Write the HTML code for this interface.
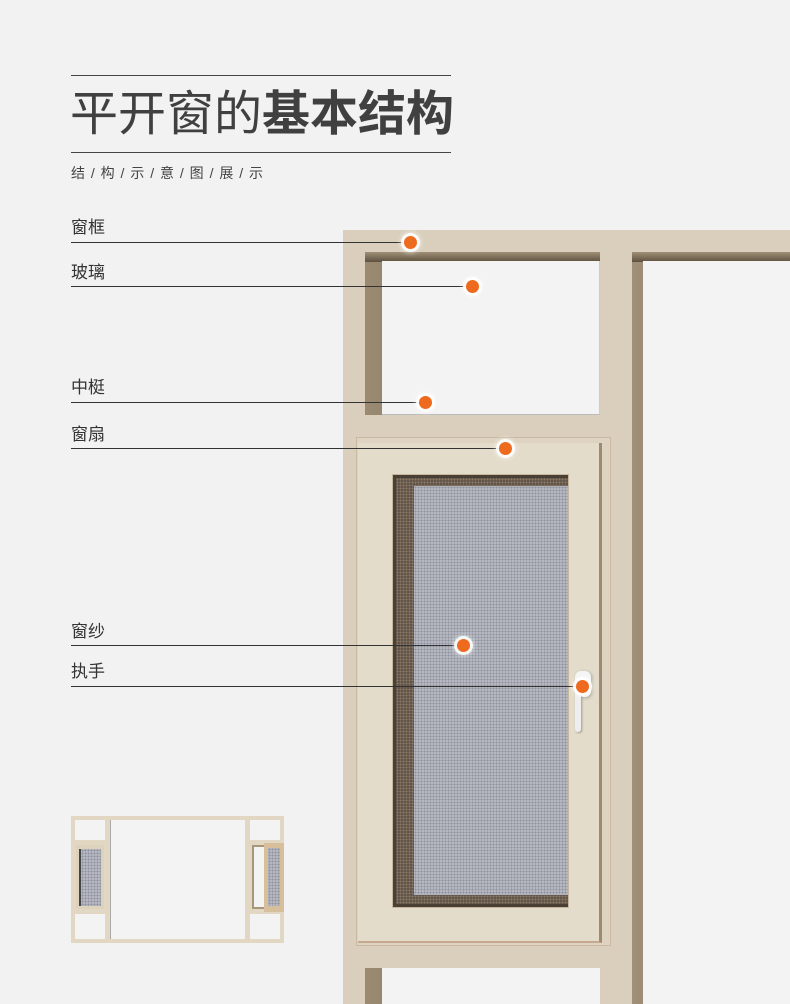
<!DOCTYPE html>
<html><head><meta charset="utf-8"><style>
*{margin:0;padding:0;box-sizing:border-box}
html,body{width:790px;height:1004px;overflow:hidden}
body{background:#f2f2f2;position:relative;font-family:"Liberation Sans","Noto Sans CJK SC",sans-serif;color:#333}
.a{position:absolute}
.lbl{position:absolute;left:71px;font-size:17px;color:#333}
.ln{position:absolute;left:71px;height:1px;background:#333}
.dot{position:absolute;width:13px;height:13px;border-radius:50%;background:#ee6a1f;box-shadow:0 0 0 3px rgba(255,255,255,.85),0 0 4px 4px rgba(255,255,255,.5)}
.mesh{background-color:#b9bcc4;background-image:radial-gradient(circle,#8d919b 0.9px,transparent 1.2px);background-size:3px 3px}
</style></head><body>
<!-- title -->
<div class="a" style="left:71px;top:75px;width:380px;height:1px;background:#444"></div>
<div class="a" style="left:70px;top:85px;font-size:48px;line-height:60px;color:#404040;white-space:nowrap">平开窗的<b>基本结构</b></div>
<div class="a" style="left:71px;top:152px;width:380px;height:1px;background:#444"></div>
<div class="a" style="left:71px;top:163px;font-size:14px;color:#444;white-space:nowrap;letter-spacing:1px">结 / 构 / 示 / 意 / 图 / 展 / 示</div>

<!-- main frame -->
<div class="a" style="left:343px;top:230px;width:447px;height:774px;background:#dacfbd"></div>
<!-- upper pane -->
<div class="a" style="left:365px;top:252px;width:235px;height:163px;background:linear-gradient(90deg,#9a8a72,#7d6d56 80%,#5a4c3a)"></div>
<div class="a" style="left:365px;top:252px;width:235px;height:10px;background:linear-gradient(180deg,#a09078,#5d503e)"></div>
<div class="a" style="left:382px;top:261px;width:218px;height:154px;background:#f3f3f3;border-bottom:1px solid #bbb;border-right:1px solid #ccc"></div>
<!-- right opening -->
<div class="a" style="left:632px;top:252px;width:158px;height:752px;background:linear-gradient(90deg,#a09078,#7a6b55 70%,#5a4c3a)"></div>
<div class="a" style="left:632px;top:252px;width:158px;height:10px;background:linear-gradient(180deg,#a09078,#5d503e)"></div>
<div class="a" style="left:643px;top:261px;width:147px;height:743px;background:#f3f3f3"></div>
<!-- lower pane -->
<div class="a" style="left:365px;top:968px;width:235px;height:36px;background:linear-gradient(90deg,#9a8a72,#7d6d56 80%,#5a4c3a)"></div>
<div class="a" style="left:382px;top:968px;width:218px;height:36px;background:#f3f3f3"></div>
<!-- sash -->
<div class="a" style="left:356px;top:437px;width:255px;height:509px;background:#ddd3c0;border:1px solid #c9b9a0"></div>
<div class="a" style="left:358px;top:443px;width:244px;height:500px;background:#e4dccb;border-right:3px solid #9c8a72;border-bottom:2px solid #c7a990"></div>
<div class="a" style="left:392px;top:474px;width:177px;height:434px;background:#4a3f34;border:1px solid #c7b79e"></div>
<div class="a" style="left:396px;top:478px;width:172px;height:426px;background:#5d5045;background-image:radial-gradient(circle,#8a7a66 0.9px,transparent 1.2px);background-size:3px 3px"></div>
<div class="a mesh" style="left:414px;top:486px;width:154px;height:409px"></div>
<!-- handle -->
<div class="a" style="left:575px;top:671px;width:16px;height:26px;background:#f4f4f4;border-radius:6px;box-shadow:1px 1px 3px rgba(0,0,0,.3)"></div>
<div class="a" style="left:575px;top:690px;width:6px;height:42px;background:#eee;border-radius:3px;box-shadow:1px 1px 2px rgba(0,0,0,.3)"></div>

<!-- labels -->
<div class="lbl" style="top:213px">窗框</div><div class="ln" style="top:242px;width:334px"></div><div class="dot" style="left:404px;top:236px"></div>
<div class="lbl" style="top:258px">玻璃</div><div class="ln" style="top:286px;width:396px"></div><div class="dot" style="left:466px;top:280px"></div>
<div class="lbl" style="top:373px">中梃</div><div class="ln" style="top:402px;width:349px"></div><div class="dot" style="left:419px;top:396px"></div>
<div class="lbl" style="top:420px">窗扇</div><div class="ln" style="top:448px;width:429px"></div><div class="dot" style="left:499px;top:442px"></div>
<div class="lbl" style="top:617px">窗纱</div><div class="ln" style="top:645px;width:387px"></div><div class="dot" style="left:457px;top:639px"></div>
<div class="lbl" style="top:657px">执手</div><div class="ln" style="top:686px;width:506px"></div><div class="dot" style="left:576px;top:680px"></div>

<!-- thumbnail -->
<div class="a" style="left:71px;top:816px;width:213px;height:127px;background:#e2d7c2"></div>
<div class="a" style="left:75px;top:820px;width:30px;height:20px;background:#f3f3f3"></div>
<div class="a" style="left:75px;top:914px;width:30px;height:25px;background:#f3f3f3"></div>
<div class="a" style="left:76px;top:845px;width:28px;height:64px;background:#ddd2bc"></div>
<div class="a mesh" style="left:79px;top:849px;width:22px;height:57px;border-left:2px solid #444"></div>
<div class="a" style="left:110px;top:820px;width:135px;height:119px;background:#f3f3f3;border-left:1px solid #aaa"></div>
<div class="a" style="left:250px;top:820px;width:30px;height:20px;background:#f3f3f3"></div>
<div class="a" style="left:250px;top:914px;width:30px;height:25px;background:#f3f3f3"></div>
<div class="a" style="left:252px;top:845px;width:15px;height:64px;background:#f3f3f3;border:2px solid #a89678"></div>
<div class="a" style="left:264px;top:843px;width:20px;height:69px;background:#d8bf9c"></div>
<div class="a mesh" style="left:268px;top:848px;width:12px;height:58px"></div>
</body></html>
